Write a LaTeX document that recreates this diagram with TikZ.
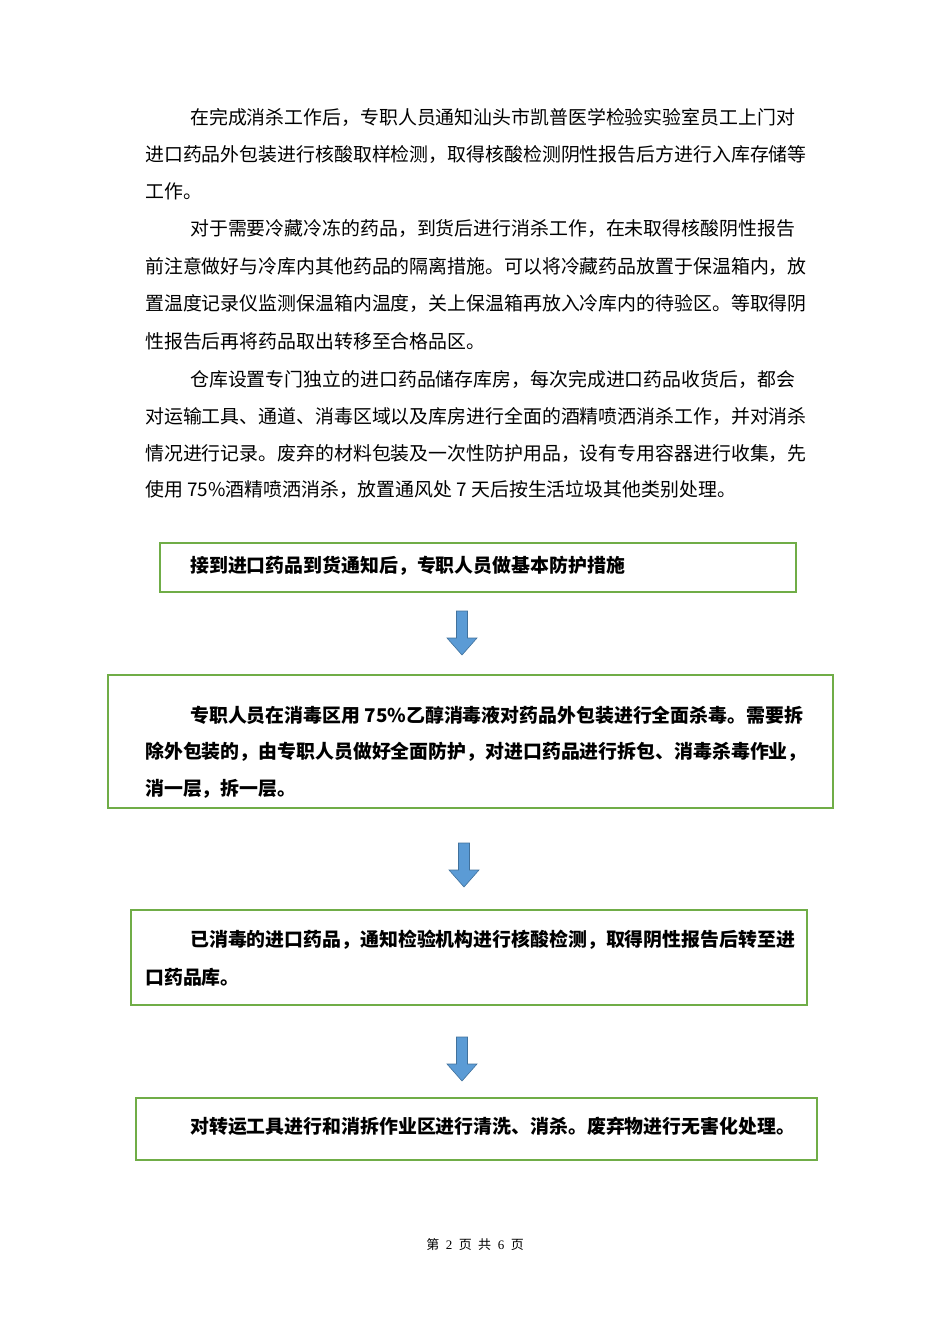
\documentclass[tikz,border=0pt]{standalone}
\usepackage{fontspec}
\setmainfont{Liberation Serif}
\newfontfamily\cjk{Noto Sans CJK SC}
\begin{document}
\begin{tikzpicture}[x=1pt,y=-1pt,
 para/.style={anchor=west,inner sep=0pt,font=\cjk\fontsize{18.9}{20}\selectfont},
 boxt/.style={anchor=west,inner sep=0pt,font=\cjk\bfseries\fontsize{18.9}{20}\selectfont},
 gbox/.style={draw={rgb,255:red,112;green,173;blue,71},line width=1.6pt},
 barrow/.style={fill={rgb,255:red,91;green,155;blue,213},draw={rgb,255:red,65;green,113;blue,156},line width=0.6pt}]
\useasboundingbox (0,0) rectangle (950,1344);
\node[para] (p1) at (190,117) {在完成消杀工作后，专职人员通知汕头市凯普医学检验实验室员工上门对};
\node[para] (p2) at (145,155) {进口药品外包装进行核酸取样检测，取得核酸检测阴性报告后方进行入库存储等};
\node[para] (p3) at (145,191) {工作。};
\node[para] (p4) at (190,229) {对于需要冷藏冷冻的药品，到货后进行消杀工作，在未取得核酸阴性报告};
\node[para] (p5) at (145,266) {前注意做好与冷库内其他药品的隔离措施。可以将冷藏药品放置于保温箱内，放};
\node[para] (p6) at (145,304) {置温度记录仪监测保温箱内温度，关上保温箱再放入冷库内的待验区。等取得阴};
\node[para] (p7) at (145,341) {性报告后再将药品取出转移至合格品区。};
\node[para] (p8) at (190,379) {仓库设置专门独立的进口药品储存库房，每次完成进口药品收货后，都会};
\node[para] (p9) at (145,416) {对运输工具、通道、消毒区域以及库房进行全面的酒精喷洒消杀工作，并对消杀};
\node[para] (p10) at (145,453) {情况进行记录。废弃的材料包装及一次性防护用品，设有专用容器进行收集，先};
\node[para] (p11) at (145,490) {使用 75\%酒精喷洒消杀，放置通风处 7 天后按生活垃圾其他类别处理。};
% boxes
\draw[gbox] (160,543) rectangle (796,592);
\node[boxt] (b1) at (190,566) {接到进口药品到货通知后，专职人员做基本防护措施};
\draw[gbox] (108,675) rectangle (833,808);
\node[boxt] (b2a) at (190,715) {专职人员在消毒区用 75\%乙醇消毒液对药品外包装进行全面杀毒。需要拆};
\node[boxt] (b2b) at (145,752) {除外包装的，由专职人员做好全面防护，对进口药品进行拆包、消毒杀毒作业，};
\node[boxt] (b2c) at (145,789) {消一层，拆一层。};
\draw[gbox] (131,910) rectangle (807,1005);
\node[boxt] (b3a) at (190,940) {已消毒的进口药品，通知检验机构进行核酸检测，取得阴性报告后转至进};
\node[boxt] (b3b) at (145,977) {口药品库。};
\draw[gbox] (136,1098) rectangle (817,1160);
\node[boxt] (b4) at (190,1126) {对转运工具进行和消拆作业区进行清洗、消杀。废弃物进行无害化处理。};
% arrows
\foreach \cx/\ty in {462/611, 464/843, 462/1037}{
 \draw[barrow] (\cx-5.5,\ty) -- (\cx+5.5,\ty) -- (\cx+5.5,\ty+27) -- (\cx+15,\ty+27) -- (\cx,\ty+44) -- (\cx-15,\ty+27) -- (\cx-5.5,\ty+27) -- cycle;
}
\node[font=\fontsize{13}{15}\selectfont] (foot) at (475,1245) {{\cjk 第}\ \ 2\ \ {\cjk 页}\ \ {\cjk 共}\ \ 6\ \ {\cjk 页}};
\end{tikzpicture}
\end{document}
